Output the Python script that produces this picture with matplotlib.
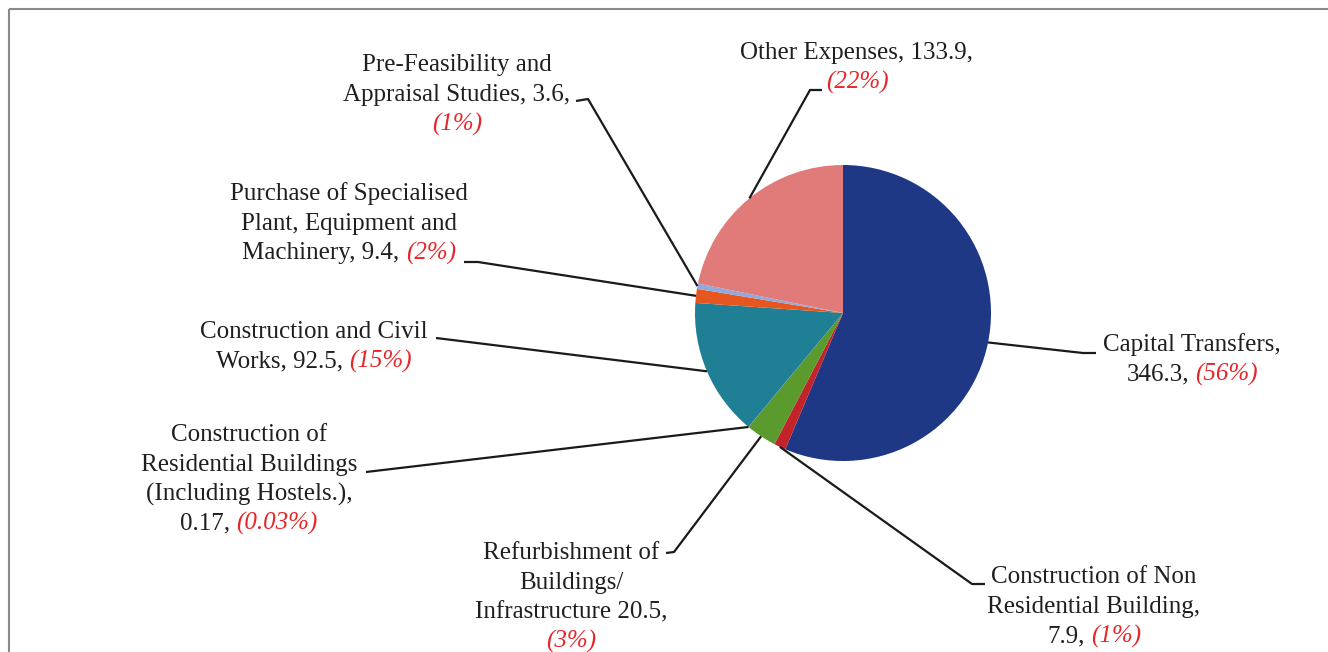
import numpy as np
import matplotlib
matplotlib.use("Agg")
import matplotlib.pyplot as plt
from matplotlib.patches import Rectangle

# ---- data ----
categories = ["Capital Transfers", "Construction of Non Residential Building",
              "Refurbishment of Buildings/ Infrastructure",
              "Construction of Residential Buildings (Including Hostels.)",
              "Construction and Civil Works",
              "Purchase of Specialised Plant, Equipment and Machinery",
              "Pre-Feasibility and Appraisal Studies", "Other Expenses"]
values = [346.3, 7.9, 20.5, 0.17, 92.5, 9.4, 3.6, 133.9]
value_text = ["346.3", "7.9", "20.5", "0.17", "92.5", "9.4", "3.6", "133.9"]
pct_text = ["56%", "1%", "3%", "0.03%", "15%", "2%", "1%", "22%"]
colors = ["#1f3886", "#c3232b", "#5b9a2c", "#7b5aa6", "#1e7f95",
          "#e8561f", "#93a9db", "#e07b7a"]

# label lines: each line is (black text, red text or None)
label_lines = [
    [("Capital Transfers,", None), ("346.3,", "(56%)")],
    [("Construction of Non", None), ("Residential Building,", None), ("7.9,", "(1%)")],
    [("Refurbishment of", None), ("Buildings/", None), ("Infrastructure 20.5,", None), ("", "(3%)")],
    [("Construction of", None), ("Residential Buildings", None),
     ("(Including Hostels.),", None), ("0.17,", "(0.03%)")],
    [("Construction and Civil", None), ("Works, 92.5,", "(15%)")],
    [("Purchase of Specialised", None), ("Plant, Equipment and", None), ("Machinery, 9.4,", "(2%)")],
    [("Pre-Feasibility and", None), ("Appraisal Studies, 3.6,", None), ("", "(1%)")],
    [("Other Expenses, 133.9,", None), ("", "(22%)")],
]

# layout (pixels): label centre x, first line y, leader start, elbow
label_pos = [(1192, 345), (1094, 577), (571, 553), (249, 435),
             (314, 332), (349, 194), (457, 65), (857, 53)]
leader_start = [(1096, 353), (985, 584), (666, 553), (366, 472),
                (436, 338), (464, 262), (576, 101), (822, 90)]
leader_elbow = [(1083, 353), (972, 584), (674, 552), None,
                None, (478, 262), (588, 99), (810, 90)]

W, H = 1328, 652
cx, cy, R = 843, 313, 148
fs = 18
lsp = 29.6
fam = "Liberation Serif"

fig = plt.figure(figsize=(W / 100, H / 100), dpi=100)
ax = fig.add_axes([0, 0, 1, 1])

# y axis runs downward, so counter-clockwise in data is clockwise on screen
wedges, _ = ax.pie(values, colors=colors, startangle=-90, counterclock=True,
                   center=(cx, cy), radius=R, wedgeprops=dict(linewidth=0))
ax.set_xlim(0, W)
ax.set_ylim(H, 0)
ax.set_aspect("equal")
ax.axis("off")

# chart frame
ax.add_patch(Rectangle((9, 9), W + 50, H + 50, fill=False, edgecolor="#8a8a8a", lw=1.5))

renderer = fig.canvas.get_renderer()


def text_width(s, style):
    t = ax.text(0, 0, s, fontsize=fs, family=fam, style=style)
    w = t.get_window_extent(renderer).width
    t.remove()
    return w


space_w = text_width("a a", "normal") - text_width("aa", "normal")

for (xc, y0), lines in zip(label_pos, label_lines):
    for i, (blk, red) in enumerate(lines):
        y = y0 + i * lsp
        wb = text_width(blk, "normal") if blk else 0
        wr = text_width(red, "italic") if red else 0
        gap = space_w if (blk and red) else 0
        x = xc - (wb + gap + wr) / 2
        if blk:
            ax.text(x, y, blk, fontsize=fs, family=fam, color="#1f1f1f",
                    ha="left", va="center")
        if red:
            ax.text(x + wb + gap, y, red, fontsize=fs, family=fam, color="#e8262a",
                    style="italic", ha="left", va="center")

# leader lines to the middle of each slice arc
for w, st, el in zip(wedges, leader_start, leader_elbow):
    mid = np.deg2rad((w.theta1 + w.theta2) / 2)
    px, py = cx + R * np.cos(mid), cy + R * np.sin(mid)
    xs, ys = [st[0]], [st[1]]
    if el is not None:
        xs.append(el[0]); ys.append(el[1])
    xs.append(px); ys.append(py)
    ax.plot(xs, ys, color="#1a1a1a", lw=1.6, solid_capstyle="butt")

fig.savefig("out.png", dpi=100)
